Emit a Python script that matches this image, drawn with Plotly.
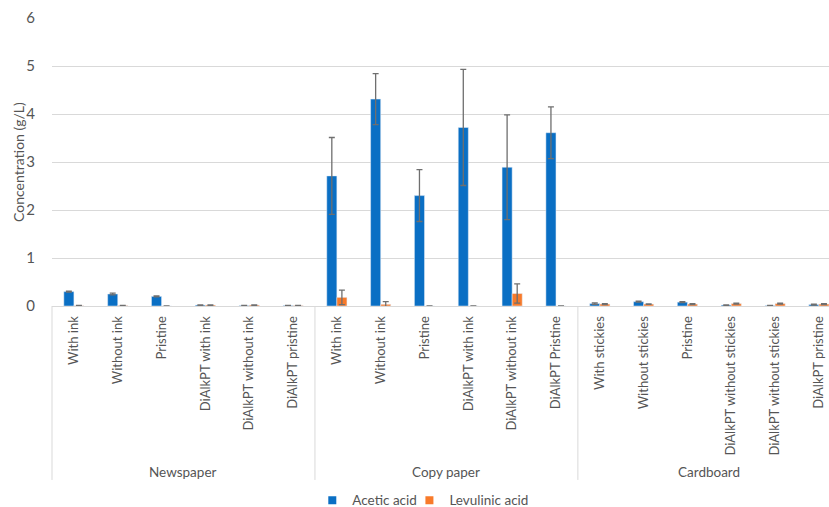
import plotly.graph_objects as go

# Feedstock groups and pretreatment conditions
group_names = ["Newspaper", "Copy paper", "Cardboard"]
conditions = [
    "With ink", "Without ink", "Pristine",
    "DiAlkPT with ink", "DiAlkPT without ink", "DiAlkPT pristine",
    "With ink", "Without ink", "Pristine",
    "DiAlkPT with ink", "DiAlkPT without ink", "DiAlkPT Pristine",
    "With stickies", "Without stickies", "Pristine",
    "DiAlkPT without stickies", "DiAlkPT without stickies", "DiAlkPT pristine",
]

# Concentrations (g/L) and standard deviations
acetic = [0.30, 0.25, 0.20, 0.02, 0.01, 0.01,
          2.71, 4.31, 2.30, 3.72, 2.89, 3.61,
          0.05, 0.09, 0.08, 0.02, 0.01, 0.03]
acetic_err = [0.01, 0.02, 0.01, 0.005, 0.005, 0.005,
              0.80, 0.53, 0.54, 1.21, 1.09, 0.54,
              0.015, 0.01, 0.01, 0.005, 0.005, 0.01]
levulinic = [0.005, 0.01, 0.0, 0.02, 0.02, 0.01,
             0.18, 0.035, 0.0, 0.0, 0.26, 0.0,
             0.04, 0.04, 0.04, 0.05, 0.05, 0.04]
levulinic_err = [0.005, 0.005, 0.0, 0.005, 0.005, 0.005,
                 0.15, 0.055, 0.0, 0.0, 0.20, 0.0,
                 0.01, 0.005, 0.01, 0.01, 0.01, 0.01]

yticks = [0, 1, 2, 3, 4, 5, 6]

font_family = "Lato"
text_color = "#555555"
err_color = "#6F6F6F"
grid_color = "#D9D9D9"
blue = "#0A6FC4"
orange = "#F87A2A"

n = len(conditions)
per_group = n // len(group_names)
xs = list(range(n))
x_range = [-0.5, 17.23]

fig = go.Figure()
fig.add_trace(go.Bar(
    name="Acetic acid", x=xs, y=acetic, marker=dict(color=blue), showlegend=False,
    error_y=dict(type="data", array=acetic_err, color=err_color, thickness=1.3, width=3),
))
fig.add_trace(go.Bar(
    name="Levulinic acid", x=xs, y=levulinic, marker=dict(color=orange), showlegend=False,
    error_y=dict(type="data", array=levulinic_err, color=err_color, thickness=1.3, width=3),
))
# small square legend keys, one legend box each
for name, col, lg in [("Acetic acid", blue, "legend"), ("Levulinic acid", orange, "legend2")]:
    fig.add_trace(go.Scatter(
        name=name, x=[None], y=[None], mode="markers", legend=lg,
        marker=dict(symbol="square", size=8, color=col),
    ))

def to_paper(v):
    return (v - x_range[0]) / (x_range[1] - x_range[0])

# group dividers below the category axis and group titles
shapes = []
annotations = []
for g, gname in enumerate(group_names):
    left = g * per_group - 0.5
    shapes.append(dict(type="line", xref="paper", yref="paper",
                       x0=to_paper(left), x1=to_paper(left), y0=0, y1=-0.604,
                       line=dict(color=grid_color, width=1)))
    annotations.append(dict(text=gname, xref="x", yref="paper",
                            x=left + per_group / 2, y=-0.576, showarrow=False,
                            xanchor="center", yanchor="middle",
                            font=dict(size=13.5, color=text_color)))

# y-axis title
annotations.append(dict(text="Concentration (g/L)", xref="paper", yref="paper",
                        x=-0.0438, y=0.5, textangle=-90, showarrow=False,
                        xanchor="center", yanchor="middle",
                        font=dict(size=14, color=text_color)))

legend_style = dict(orientation="h", xanchor="left", y=-0.675, yanchor="middle",
                    font=dict(size=13.5, color=text_color), itemwidth=30,
                    bgcolor="rgba(0,0,0,0)")

fig.update_layout(
    width=829, height=507,
    margin=dict(l=52, r=0, t=18, b=201, autoexpand=False),
    paper_bgcolor="white", plot_bgcolor="white",
    barmode="group", bargap=0.54, bargroupgap=0.0,
    font=dict(family=font_family, size=13, color=text_color),
    legend=dict(x=0.335, **legend_style),
    legend2=dict(x=0.46, **legend_style),
    shapes=shapes, annotations=annotations,
)
fig.update_yaxes(
    range=[0, 6], tickvals=yticks, showgrid=True, gridcolor=grid_color, gridwidth=1,
    zeroline=False, showline=False, ticks="", ticklabelstandoff=16, automargin=False,
    tickfont=dict(size=15, color=text_color),
)
fig.update_xaxes(
    range=x_range, tickvals=xs, ticktext=conditions, tickangle=-90,
    showgrid=False, zeroline=False, automargin=False,
    showline=True, linecolor=grid_color, linewidth=1,
    tickfont=dict(size=13, color=text_color), ticks="", ticklabelstandoff=4,
)

fig.write_html("out.html")
